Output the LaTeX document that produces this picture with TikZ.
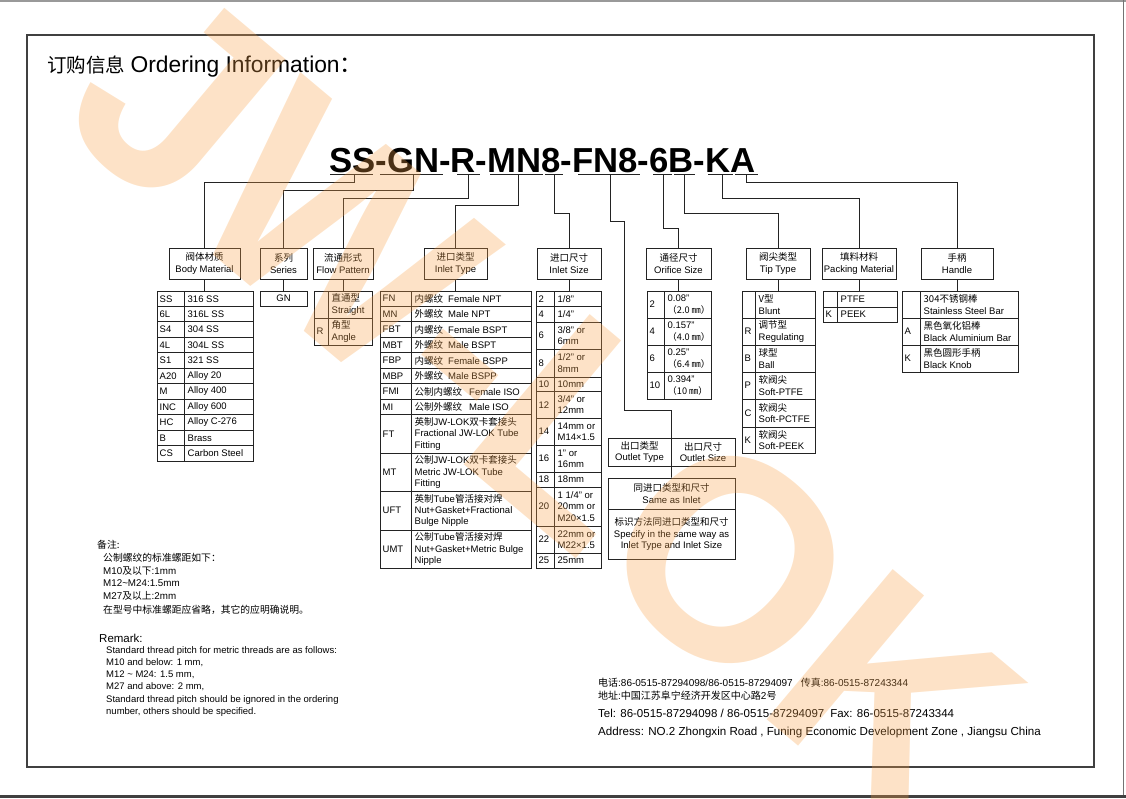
\documentclass[tikz,border=0pt]{standalone}
\usepackage{fontspec}
\setmainfont{Liberation Sans}
\newfontfamily\cjk{Noto Sans CJK SC}
\newcommand\zh[1]{{\cjk #1}}
\newcommand\fs{\fontsize{9.5}{11.3}\selectfont}
\newcommand\mm[1]{{\cjk\fontsize{9.2}{11.3}\selectfont #1}}
\definecolor{wm}{RGB}{247,160,70}
\definecolor{ln}{RGB}{35,35,35}
\newcommand\mkhdr[6]{\node[hdr,minimum width={(#4-#2)*1pt},minimum height={(#5-#3)*1pt}] (#1) at ({(#2+#4)/2},{(#3+#5)/2}) {#6};}
\newcommand\trow[8]{%
  \draw[tbl] ({#2},{#5}) rectangle ({#4},{#6}) ({#3},{#5}) -- ({#3},{#6});
  \node[cell] (#1c) at ({#2+2.5},{(#5+#6)/2}) {#7};
  \node[cell] (#1d) at ({#3+3.5},{(#5+#6)/2}) {#8};}
\begin{document}
\begin{tikzpicture}[x=1pt,y=-1pt,
  tbl/.style={draw=ln,line width=0.9pt},
  conn/.style={draw=ln,line width=0.9pt},
  uline/.style={draw=ln,line width=1.4pt},
  hdr/.style={draw=ln,line width=0.9pt,align=center,inner sep=0pt,font=\fs},
  cell/.style={anchor=west,inner sep=0pt,align=left,font=\fs},
  txt/.style={anchor=west,inner sep=0pt},
]
\useasboundingbox (0,0) rectangle (1126,798);
% page edges and frame
\draw[black!40,line width=1.2pt] (0,1) -- (1126,1);
\draw[black!55,line width=1pt] (1123,0) -- (1123,798);
\draw[black!75,line width=3pt] (0,796.5) -- (1126,796.5);
\draw[black!75,line width=1.5pt] (27,35) rectangle (1094,767);

% title
\node[txt] (title) at (47,67) {\fontsize{19.5}{22}\selectfont\zh{订购信息} \fontsize{22.8}{26}\selectfont Ordering Information\zh{：}};

% code
\node[anchor=base west,inner sep=0pt,font=\bfseries\fontsize{34.7}{40}\selectfont] (code) at (329,172) {SS-GN-R-MN8-FN8-6B-KA};
\draw[uline] (330,174.5) -- (373,174.5) (380,174.5) -- (443,174.5) (457,174.5) -- (480,174.5)
  (490,174.5) -- (543,174.5) (545,174.5) -- (563,174.5) (578,174.5) -- (640,174.5)
  (653,174.5) -- (672,174.5) (674,174.5) -- (695,174.5) (708,174.5) -- (733,174.5) (735,174.5) -- (758,174.5);
\coordinate (uSS) at (354,175);
\coordinate (uGN) at (413,175);
\coordinate (uR) at (468,175);
\coordinate (uMN) at (518,175);
\coordinate (u8) at (554,175);
\coordinate (uFN) at (610,175);
\coordinate (u6) at (663,175);
\coordinate (uB) at (684,175);
\coordinate (uK) at (722,175);
\coordinate (uA) at (746,175);

% headers
\mkhdr{hBody}{169}{248}{240}{279}{\zh{阀体材质}\\Body Material}
\mkhdr{hSeries}{260}{248}{307}{279}{\zh{系列}\\Series}
\mkhdr{hFlow}{313}{248}{373}{279}{\zh{流通形式}\\Flow Pattern}
\mkhdr{hInType}{424}{248}{487}{279}{\zh{进口类型}\\Inlet Type}
\mkhdr{hInSize}{537}{248}{601}{279}{\zh{进口尺寸}\\Inlet Size}
\mkhdr{hOrif}{646}{248}{711}{279}{\zh{通径尺寸}\\Orifice Size}
\mkhdr{hTip}{746}{248}{810}{279}{\zh{阀尖类型}\\Tip Type}
\mkhdr{hPack}{822}{248}{896}{279}{\zh{填料材料}\\Packing Material}
\mkhdr{hHandle}{921}{248}{993}{279}{\zh{手柄}\\Handle}

% connectors code -> headers
\draw[conn] (uSS) -- (uSS |- 0,182) -| (hBody.north);
\draw[conn] (uGN) -- (uGN |- 0,190) -| (hSeries.north);
\draw[conn] (uR) -- (uR |- 0,198) -| (hFlow.north);
\draw[conn] (uMN) -- (uMN |- 0,205) -| (hInType.north);
\draw[conn] (u8) -- (u8 |- 0,213) -| (hInSize.north);
\draw[conn] (u6) -- (u6 |- 0,228) -| (hOrif.north);
\draw[conn] (uB) -- (uB |- 0,213) -| (hTip.north);
\draw[conn] (uK) -- (uK |- 0,198) -| (hPack.north);
\draw[conn] (uA) -- (uA |- 0,182) -| (hHandle.north);

% headers -> tables
\foreach \h in {hBody,hSeries,hFlow,hInType,hInSize,hOrif,hTip,hPack,hHandle}
  {\draw[conn] (\h.south) -- (\h.south |- 0,291);}

% body material
\foreach \c/\d [count=\i] in {SS/316 SS,6L/316L SS,S4/304 SS,4L/304L SS,S1/321 SS,A20/Alloy 20,M/Alloy 400,INC/Alloy 600,HC/Alloy C-276,B/Brass,CS/Carbon Steel}
  {\trow{b\i}{157}{184}{253}{291+(\i-1)*15.45}{291+\i*15.45}{\c}{\d}}

% series
\node[hdr,minimum width=47pt,minimum height=15pt] (gn) at (283.5,298.5) {GN};

% flow pattern
\trow{f1}{314}{328}{372}{291}{318}{}{\zh{直通型}\\Straight}
\trow{f2}{314}{328}{372}{318}{345}{R}{\zh{角型}\\Angle}

% inlet type
\foreach \c/\d [count=\i] in {FN/\zh{内螺纹}\hspace{5pt}Female NPT,MN/\zh{外螺纹}\hspace{5pt}Male NPT,FBT/\zh{内螺纹}\hspace{5pt}Female BSPT,MBT/\zh{外螺纹}\hspace{5pt}Male BSPT,FBP/\zh{内螺纹}\hspace{5pt}Female BSPP,MBP/\zh{外螺纹}\hspace{5pt}Male BSPP,FMI/\zh{公制内螺纹}\hspace{7pt}Female ISO,MI/\zh{公制外螺纹}\hspace{7pt}Male ISO}
  {\trow{it\i}{380}{411}{531}{291+(\i-1)*15.45}{291+\i*15.45}{\c}{\d}}
\trow{it9}{380}{411}{531}{414.6}{453}{FT}{\zh{英制}JW-LOK\zh{双卡套接头}\\Fractional JW-LOK Tube\\Fitting}
\trow{it10}{380}{411}{531}{453}{491}{MT}{\zh{公制}JW-LOK\zh{双卡套接头}\\Metric JW-LOK Tube\\Fitting}
\trow{it11}{380}{411}{531}{491}{530}{UFT}{\zh{英制}Tube\zh{管活接对焊}\\Nut+Gasket+Fractional\\Bulge Nipple}
\trow{it12}{380}{411}{531}{530}{568}{UMT}{\zh{公制}Tube\zh{管活接对焊}\\Nut+Gasket+Metric Bulge\\Nipple}

% inlet size
\trow{s1}{536}{554}{601}{291}{306.5}{2}{1/8"}
\trow{s2}{536}{554}{601}{306.5}{322}{4}{1/4"}
\trow{s3}{536}{554}{601}{322}{349}{6}{3/8" or\\6mm}
\trow{s4}{536}{554}{601}{349}{377}{8}{1/2" or\\8mm}
\trow{s5}{536}{554}{601}{377}{391.5}{10}{10mm}
\trow{s6}{536}{554}{601}{391.5}{418}{12}{3/4" or\\12mm}
\trow{s7}{536}{554}{601}{418}{445}{14}{14mm or\\M14×1.5}
\trow{s8}{536}{554}{601}{445}{472}{16}{1" or\\16mm}
\trow{s9}{536}{554}{601}{472}{487}{18}{18mm}
\trow{s10}{536}{554}{601}{487}{526}{20}{1 1/4" or\\20mm or\\M20×1.5}
\trow{s11}{536}{554}{601}{526}{553}{22}{22mm or\\M22×1.5}
\trow{s12}{536}{554}{601}{553}{568}{25}{25mm}

% orifice size
\trow{o1}{647}{664}{711}{291}{318}{2}{0.08"\\\mm{（2.0 ㎜）}}
\trow{o2}{647}{664}{711}{318}{345}{4}{0.157"\\\mm{（4.0 ㎜）}}
\trow{o3}{647}{664}{711}{345}{372}{6}{0.25"\\\mm{（6.4 ㎜）}}
\trow{o4}{647}{664}{711}{372}{399}{10}{0.394"\\\mm{（10 ㎜）}}

% outlet
\node[hdr,minimum width=63pt,minimum height=28pt] (oType) at (639.5,452) {\zh{出口类型}\\Outlet Type};
\node[hdr,minimum width=64pt,minimum height=28pt] (oSize) at (703,452) {\zh{出口尺寸}\\Outlet Size};
\node[hdr,minimum width=127pt,minimum height=31pt] (sTop) at (671.5,493.5) {\zh{同进口类型和尺寸}\\Same as Inlet};
\node[hdr,minimum width=127pt,minimum height=50pt] (sBot) at (671.5,534) {\zh{标识方法同进口类型和尺寸}\\Specify in the same way as\\Inlet Type and Inlet Size};
\draw[conn] (uFN) -- (uFN |- 0,221) -- (624,221) -- (624,410) -| (oType.north east);
\draw[conn] (oType.south east) -- (sTop.north);

% tip type
\trow{t1}{742}{755}{815}{291}{318}{}{\zh{V型}\\Blunt}
\trow{t2}{742}{755}{815}{318}{345}{R}{\zh{调节型}\\Regulating}
\trow{t3}{742}{755}{815}{345}{372}{B}{\zh{球型}\\Ball}
\trow{t4}{742}{755}{815}{372}{399}{P}{\zh{软阀尖}\\Soft-PTFE}
\trow{t5}{742}{755}{815}{399}{427}{C}{\zh{软阀尖}\\Soft-PCTFE}
\trow{t6}{742}{755}{815}{427}{453}{K}{\zh{软阀尖}\\Soft-PEEK}

% packing
\trow{p1}{823}{837}{897}{291}{307}{}{PTFE}
\trow{p2}{823}{837}{897}{307}{322}{K}{PEEK}

% handle
\trow{h1}{902}{920}{1018}{291}{318}{}{\zh{304不锈钢棒}\\Stainless Steel Bar}
\trow{h2}{902}{920}{1018}{318}{345}{A}{\zh{黑色氧化铝棒}\\Black Aluminium Bar}
\trow{h3}{902}{920}{1018}{345}{372}{K}{\zh{黑色圆形手柄}\\Black Knob}

% notes
\begin{scope}[every node/.style={txt,font=\fontsize{9.8}{12}\selectfont}]
\node (n1) at (97,545) {\zh{备注:}};
\node (n2) at (103,558) {\zh{公制螺纹的标准螺距如下：}};
\node (n3) at (103,571) {M10\zh{及以下}:1mm};
\node (n4) at (103,583) {M12\textasciitilde M24:1.5mm};
\node (n5) at (103,596) {M27\zh{及以上}:2mm};
\node (n6) at (103,610) {\zh{在型号中标准螺距应省略，其它的应明确说明。}};
\end{scope}
\node[txt,font=\fontsize{11.5}{13}\selectfont] (r0) at (99,638) {Remark:};
\begin{scope}[every node/.style={txt,font=\fontsize{9.5}{12}\selectfont}]
\node (r1) at (106,651) {Standard thread pitch for metric threads are as follows:};
\node (r2) at (106,663) {M10 and below: 1 mm,};
\node (r3) at (106,675) {M12 \textasciitilde\ M24: 1.5 mm,};
\node (r4) at (106,687) {M27 and above: 2 mm,};
\node (r5) at (106,700) {Standard thread pitch should be ignored in the ordering};
\node (r6) at (106,712) {number, others should be specified.};
\end{scope}

% contact
\node[txt,font=\fontsize{10}{12}\selectfont] (c1) at (598,683) {\zh{电话}:86-0515-87294098/86-0515-87294097\hspace{8pt}\zh{传真}:86-0515-87243344};
\node[txt,font=\fontsize{10}{12}\selectfont] (c2) at (598,696) {\zh{地址}:\zh{中国江苏阜宁经济开发区中心路}2\zh{号}};
\node[txt,font=\fontsize{11.5}{13}\selectfont] (c3) at (598,713) {Tel: 86-0515-87294098 / 86-0515-87294097\hspace{6pt}Fax: 86-0515-87243344};
\node[txt,font=\fontsize{11.6}{13}\selectfont] (c4) at (598,732) {Address: NO.2 Zhongxin Road , Funing Economic Development Zone , Jiangsu China};

% watermark
\node[rotate=-40,text=wm,opacity=0.3,inner sep=0pt,font=\bfseries\fontsize{285}{285}\selectfont] (wmark) at (545,405) {JW-LOK};
\end{tikzpicture}
\end{document}
